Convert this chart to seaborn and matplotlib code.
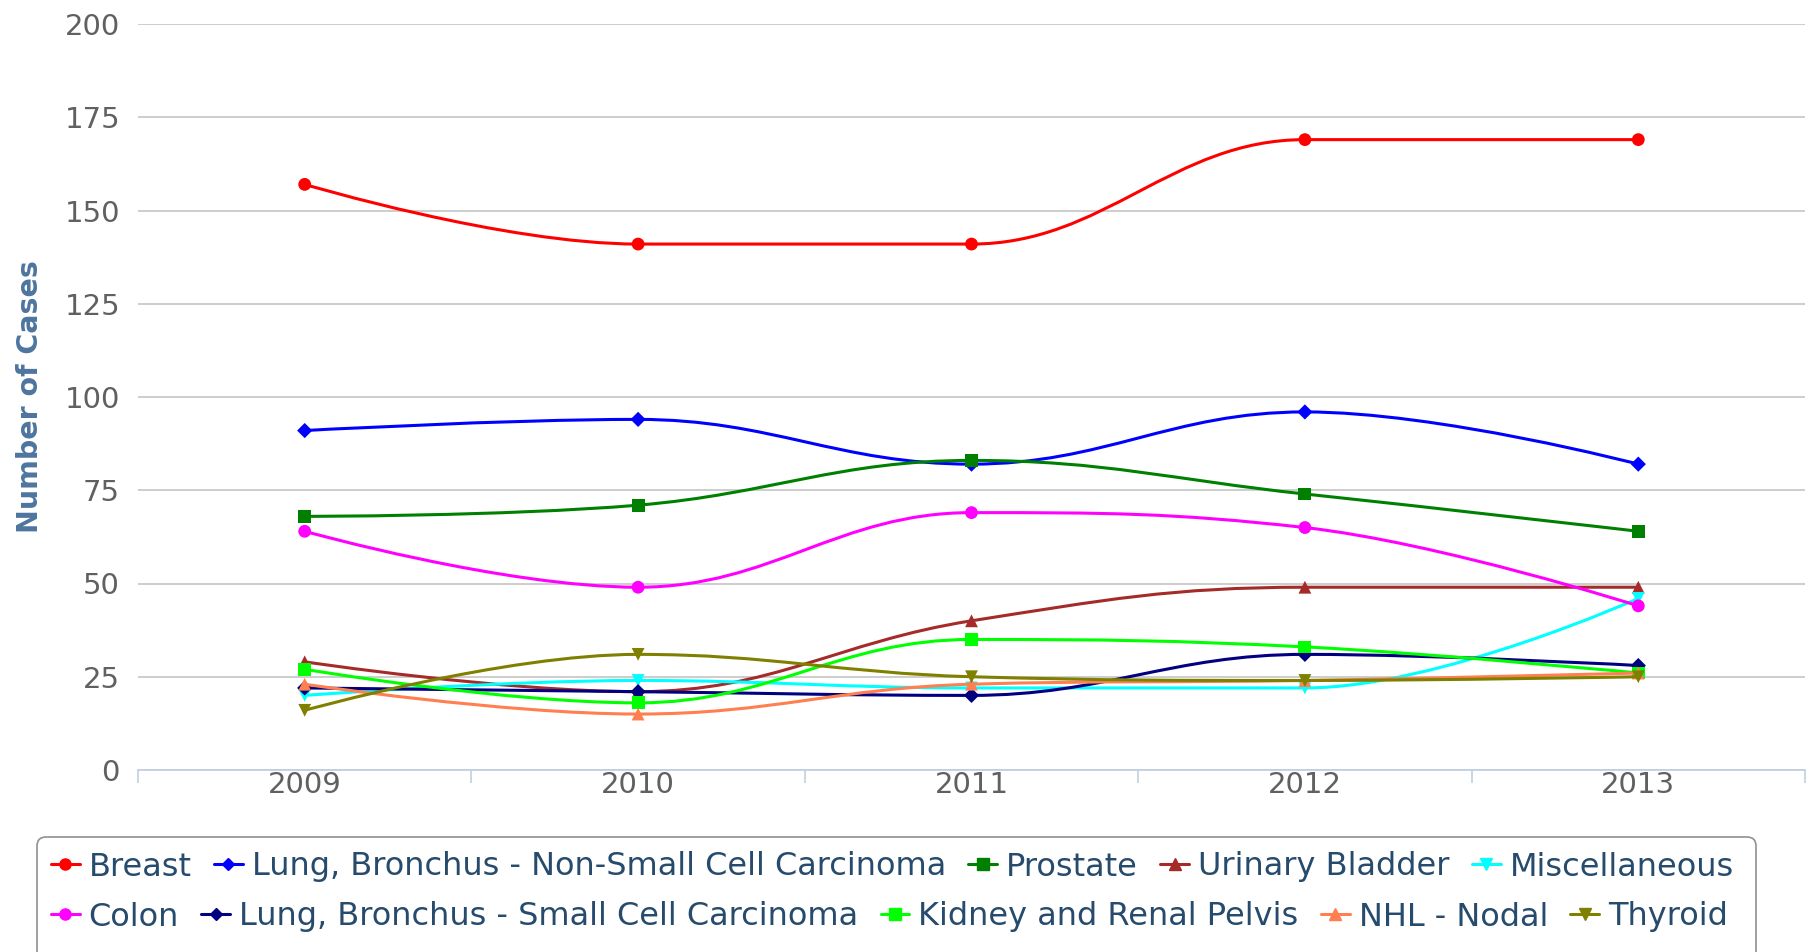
import numpy as np
import pandas as pd
import seaborn as sns
import matplotlib.pyplot as plt
from matplotlib.path import Path
from matplotlib.patches import PathPatch, FancyBboxPatch
from matplotlib.lines import Line2D
from matplotlib.transforms import IdentityTransform

# data
years = ["2009", "2010", "2011", "2012", "2013"]

breast = [157, 141, 141, 169, 169]
lung_nsclc = [91, 94, 82, 96, 82]
prostate = [68, 71, 83, 74, 64]
urinary_bladder = [29, 21, 40, 49, 49]
miscellaneous = [20, 24, 22, 22, 46]
colon = [64, 49, 69, 65, 44]
lung_sclc = [22, 21, 20, 31, 28]
kidney = [27, 18, 35, 33, 26]
nhl_nodal = [23, 15, 23, 24, 26]
thyroid = [16, 31, 25, 24, 25]

series_names = ["Breast", "Lung, Bronchus - Non-Small Cell Carcinoma", "Prostate",
                "Urinary Bladder", "Miscellaneous", "Colon",
                "Lung, Bronchus - Small Cell Carcinoma", "Kidney and Renal Pelvis",
                "NHL - Nodal", "Thyroid"]
series_values = [breast, lung_nsclc, prostate, urinary_bladder, miscellaneous,
                 colon, lung_sclc, kidney, nhl_nodal, thyroid]
colors = ["#FF0000", "#0000FF", "#008000", "#A52A2A", "#00FFFF",
          "#FF00FF", "#000080", "#00FF00", "#FF7F50", "#808000"]
markers = ["o", "D", "s", "^", "v", "o", "D", "s", "^", "v"]


def spline_path(xs, ys, smoothing=1.5):
    # highcharts-like spline: cubic bezier with clamped control points
    n = len(xs)
    denom = smoothing + 1
    left = [None] * n
    right = [None] * n
    for i in range(1, n - 1):
        px, py = xs[i], ys[i]
        lx, ly = xs[i - 1], ys[i - 1]
        nx, ny = xs[i + 1], ys[i + 1]
        lcx = (smoothing * px + lx) / denom
        lcy = (smoothing * py + ly) / denom
        rcx = (smoothing * px + nx) / denom
        rcy = (smoothing * py + ny) / denom
        if rcx != lcx:
            corr = ((rcy - lcy) * (rcx - px)) / (rcx - lcx) + py - rcy
            lcy += corr
            rcy += corr
        if lcy > ly and lcy > py:
            lcy = max(ly, py); rcy = 2 * py - lcy
        elif lcy < ly and lcy < py:
            lcy = min(ly, py); rcy = 2 * py - lcy
        if rcy > ny and rcy > py:
            rcy = max(ny, py); lcy = 2 * py - rcy
        elif rcy < ny and rcy < py:
            rcy = min(ny, py); lcy = 2 * py - rcy
        left[i] = (lcx, lcy)
        right[i] = (rcx, rcy)
    verts = [(xs[0], ys[0])]
    codes = [Path.MOVETO]
    for i in range(1, n):
        c1 = right[i - 1] or (xs[i - 1], ys[i - 1])
        c2 = left[i] or (xs[i], ys[i])
        verts += [c1, c2, (xs[i], ys[i])]
        codes += [Path.CURVE4] * 3
    return Path(verts, codes)


sns.set_theme(style="white")
plt.rcParams["font.family"] = ["DejaVu Sans"]

fig = plt.figure(figsize=(18.15, 9.52), dpi=100)
ax = fig.add_axes([138 / 1815, 1 - 770 / 952, (1805 - 138) / 1815, (770 - 24) / 952])

pos = np.arange(len(years))
for k, (name, vals) in enumerate(zip(series_names, series_values)):
    df = pd.DataFrame({"x": pos, "y": vals})
    patch = PathPatch(spline_path(list(pos), vals), facecolor="none",
                      edgecolor=colors[k], lw=2.2, zorder=3 + k * 0.1)
    ax.add_patch(patch)
    sns.scatterplot(data=df, x="x", y="y", ax=ax, color=colors[k], marker=markers[k],
                    s=60 if markers[k] == "D" else 85, edgecolor="none",
                    zorder=3.05 + k * 0.1, legend=False)

ax.set_xlim(-0.5, len(years) - 0.5)
ax.set_ylim(0, 200)
ax.set_yticks(range(0, 201, 25))
ax.set_xticks(pos)
ax.set_xticklabels(years)
ax.set_xticks(np.arange(-0.5, len(years)), minor=True)
ax.grid(axis="y", color="#C0C0C0", lw=1.1)
ax.grid(axis="x", visible=False)
ax.set_axisbelow(True)
for s in ["top", "right", "left"]:
    ax.spines[s].set_visible(False)
ax.spines["bottom"].set_color("#C0D0E0")
ax.spines["bottom"].set_linewidth(1.3)
ax.tick_params(axis="y", length=0, pad=13, labelsize=21, labelcolor="#606060")
ax.tick_params(axis="x", which="major", length=0, pad=1, labelsize=21, labelcolor="#606060")
ax.tick_params(axis="x", which="minor", length=9, width=1.2, color="#C0D0E0", bottom=True)
ax.set_xlabel("")
ax.set_ylabel("Number of Cases", fontsize=20.5, fontweight="bold", color="#4D759E")
ax.yaxis.set_label_coords(-0.0564, 0.5)

# legend: two free-flowing rows inside one rounded box
handles = [Line2D([], [], color=c, marker=m, lw=2.2, markersize=8 if m != "D" else 6.5)
           for c, m in zip(colors, markers)]
box = FancyBboxPatch((37, -30), 1756 - 37, 952 - 837 + 30,
                     boxstyle="round,pad=0,rounding_size=9", transform=IdentityTransform(),
                     facecolor="white", edgecolor="#909090", lw=1.2, zorder=0)
fig.add_artist(box)
for row, yc in enumerate([1 - 867 / 952, 1 - 917 / 952]):
    idx = range(row * 5, row * 5 + 5)
    leg = fig.legend([handles[i] for i in idx], [series_names[i] for i in idx],
                     ncol=5, loc="center left", bbox_to_anchor=(51 / 1815, yc),
                     fontsize=23, frameon=False, handlelength=0.9, handletextpad=0.28,
                     columnspacing=0.7, borderpad=0, borderaxespad=0,
                     labelcolor="#274B6D")

fig.savefig("out.png", dpi=100)
